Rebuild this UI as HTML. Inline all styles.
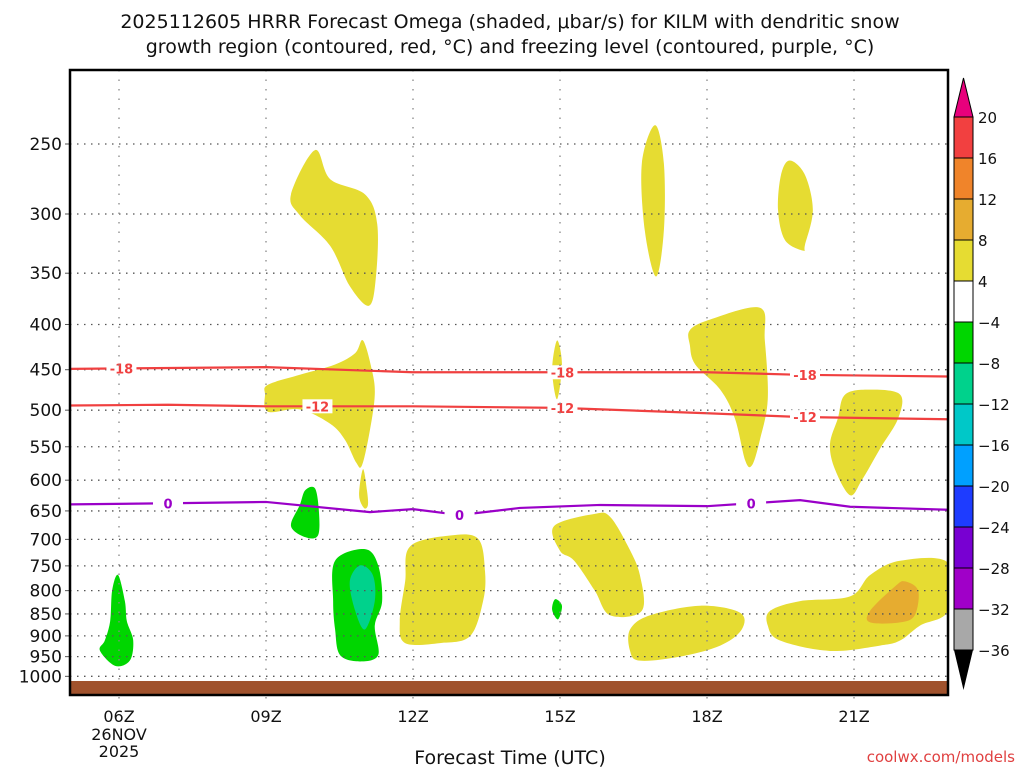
<!DOCTYPE html>
<html><head><meta charset="utf-8"><style>
body{margin:0;background:#fff;}
svg text{font-family:"DejaVu Sans","Liberation Sans",sans-serif;}
</style></head><body>
<svg id="c" width="1024" height="768" xmlns="http://www.w3.org/2000/svg">
<text x="510" y="28" text-anchor="middle" font-size="19" fill="#111">2025112605 HRRR Forecast Omega (shaded, μbar/s) for KILM with dendritic snow</text>
<text x="510" y="53" text-anchor="middle" font-size="19" fill="#111">growth region (contoured, red, °C) and freezing level (contoured, purple, °C)</text>
<text x="510" y="764" text-anchor="middle" font-size="19" fill="#111">Forecast Time (UTC)</text>
<text x="1015" y="762" text-anchor="end" font-size="15" fill="#e04040">coolwx.com/models</text>
<g id="plot"></g>
<g id="cbar"></g>
</svg>
<script>
const hourTicks=[6,9,12,15,18,21];
const hourLabels=["06Z","09Z","12Z","15Z","18Z","21Z"];
const pLevels=[250,300,350,400,450,500,550,600,650,700,750,800,850,900,950,1000];
const line18H=[5,9,12,15,18,19.9,22.92];
const line18P=[449,447,453,453,453,456,458];
const line12H=[5,7,9,12,15,18,19.9,22.92];
const line12P=[494,493,495,495,497,504,509,512];
const line0H=[5,7.24,9,11.12,12,12.96,14.18,15.82,18,19.9,20.92,22.92];
const line0P=[639,637,635,652,647,657,645,640,642,632,643,648];
const labels18H=[6.05,15.05,20.0];
const labels12H=[10.05,15.05,20.0];
const labels0H=[7.0,12.95,18.9];
const cbValues=["20","16","12","8","4","-4","-8","-12","-16","-20","-24","-28","-32","-36"];
const cbColors=["#f24040","#f0842a","#e6ac30","#e6dc32","#ffffff","#00d600","#00d28c","#00c8c8","#00a0ff","#1e3cff","#7800d2","#a000c8","#a8a8a8"];
const blobs=[
{c:"#e6dc32",h:[9.51,10.0,10.31,11.02,11.27,11.24,11.1,10.71,10.31,9.69],p:[285,254,274,285,308,355,381,362,326,301]},
{c:"#e6dc32",h:[8.98,9.04,9.69,10.41,10.82,10.98,11.16,11.22,11.12,10.96,10.84,10.61,10.31,9.69,9.04],p:[480,468,456,444,431,417,450,480,527,577,573,540,518,499,502]},
{c:"#e6dc32",h:[10.98,11.06,11.08,11.0,10.9],p:[583,616,640,645,624]},
{c:"#e6dc32",h:[14.94,15.04,14.94,14.84],p:[417,444,486,450]},
{c:"#e6dc32",h:[16.94,17.12,17.12,16.96,16.73,16.67],p:[238,263,313,353,313,263]},
{c:"#e6dc32",h:[19.69,20.0,20.16,20.0,19.96,19.59,19.45,19.51],p:[261,271,297,325,330,321,297,271]},
{c:"#e6dc32",h:[17.65,18.06,19.08,19.18,19.24,19.08,18.92,18.78,18.57,18.27,17.76,17.65],p:[406,395,383,417,486,540,577,570,511,474,444,422]},
{c:"#e6dc32",h:[20.82,21.33,21.94,21.9,21.53,21.16,20.92,20.61,20.51,20.67],p:[480,474,480,511,553,600,624,583,546,511]},
{c:"#e6dc32",h:[11.94,12.76,13.33,13.47,13.43,13.16,12.55,11.84,11.73,11.84],p:[713,693,699,761,822,901,917,917,866,781]},
{c:"#e6dc32",h:[14.88,15.71,16.02,16.39,16.63,16.67,16.02,15.71,15.29,15.0],p:[676,655,660,713,768,843,853,800,740,721]},
{c:"#e6dc32",h:[16.43,16.84,17.86,18.67,18.71,18.27,17.45,16.63,16.43],p:[885,853,832,847,885,923,950,960,936]},
{c:"#e6dc32",h:[19.29,19.9,20.92,21.33,21.94,22.92,22.92,22.35,21.94,21.53,20.51,19.49,19.24],p:[843,822,812,768,740,744,843,876,911,923,936,911,876]},
{c:"#e6ac30",h:[21.33,21.84,22.04,22.31,22.24,21.94,21.33],p:[843,791,781,800,853,869,869]},
{c:"#00d600",h:[9.8,10.0,10.08,10.06,9.8,9.51,9.69],p:[616,613,651,693,696,676,640]},
{c:"#00d600",h:[5.98,6.12,6.16,6.29,6.22,5.92,5.61,5.71,5.82,5.86],p:[768,822,866,911,960,973,935,911,866,800]},
{c:"#00d600",h:[10.41,11.02,11.29,11.37,11.22,11.29,10.92,10.51,10.41,10.37],p:[740,718,749,822,876,946,962,946,885,822]},
{c:"#00d28c",h:[10.92,11.18,11.22,11.02,10.82,10.71],p:[749,768,822,885,843,781]},
{c:"#00d600",h:[14.9,15.04,14.96,14.84],p:[818,832,862,841]}
];
const NS="http://www.w3.org/2000/svg";
const PL=70,PR=948,PT=70,PB=695;
function xs(h){return 119+(h-6)*49;}
function ys(p){return 144+384*Math.log(p/250);}
function mk(tag,attrs,parent){const e=document.createElementNS(NS,tag);for(const k in attrs)e.setAttribute(k,attrs[k]);parent.appendChild(e);return e;}
function smoothClosed(P){
  const n=P.length;let d='M'+P[0][0]+' '+P[0][1];
  for(let i=0;i<n;i++){
    const p0=P[(i-1+n)%n],p1=P[i],p2=P[(i+1)%n],p3=P[(i+2)%n];
    const c1x=p1[0]+(p2[0]-p0[0])/6,c1y=p1[1]+(p2[1]-p0[1])/6;
    const c2x=p2[0]-(p3[0]-p1[0])/6,c2y=p2[1]-(p3[1]-p1[1])/6;
    d+=` C${c1x} ${c1y} ${c2x} ${c2y} ${p2[0]} ${p2[1]}`;
  }
  return d+'Z';
}
const g=document.getElementById('plot');
const cl=mk('clipPath',{id:'clp'},g);mk('rect',{x:PL,y:PT,width:PR-PL,height:PB-PT},cl);
const inner=mk('g',{'clip-path':'url(#clp)'},g);
blobs.forEach((b,i)=>{
  const pts=b.h.map((h,j)=>[xs(h),ys(b.p[j])]);
  const e=mk('path',{d:smoothClosed(pts),fill:b.c},inner);
  
  
});
pLevels.forEach(p=>{
  const y=ys(p);
  const e=mk('line',{x1:PL,x2:PR,y1:y,y2:y,stroke:'#555','stroke-width':1.3,'stroke-dasharray':'1.5 5.5'},inner);
  
  
  mk('line',{x1:PL-5,x2:PL,y1:y,y2:y,stroke:'#555','stroke-width':1},g);
  const t=mk('text',{x:62,y:y+6,'text-anchor':'end','font-size':17,fill:'#111'},g);t.textContent=p;
  
  
});
hourTicks.forEach((h,i)=>{
  const x=xs(h);
  const e=mk('line',{x1:x,x2:x,y1:PT,y2:PB+8,stroke:'#888','stroke-width':1.3,'stroke-dasharray':'1.5 8'},g);
  
  
  const t=mk('text',{x:x,y:722,'text-anchor':'middle','font-size':16,fill:'#111'},g);t.textContent=hourLabels[i];
  
  
});
[["26NOV",740],["2025",757]].forEach(a=>{const t=mk('text',{x:xs(6),y:a[1],'text-anchor':'middle','font-size':16,fill:'#111'},g);t.textContent=a[0];

});
function drawLine(H,P,color,name,lab,labTxt){
  const d=H.map((h,i)=>(i?'L':'M')+xs(h)+' '+ys(P[i])).join(' ');
  const e=mk('path',{d:d,fill:'none',stroke:color,'stroke-width':2.2},inner);
  
  
  lab.forEach(h=>{
    let k=0;while(k<H.length-2&&H[k+1]<h)k++;
    const f=(h-H[k])/(H[k+1]-H[k]);const p=P[k]+f*(P[k+1]-P[k]);
    const x=xs(h),y=ys(p);
    mk('rect',{x:x-15,y:y-7,width:30,height:14,fill:'#fff'},inner);
    const t=mk('text',{x:x,y:y+5,'text-anchor':'middle','font-size':13,'font-weight':'bold',fill:color},inner);t.textContent=labTxt;
    
    
  });
}
drawLine(line18H,line18P,'#f04040','dgz-minus18-contour',labels18H,'-18');
drawLine(line12H,line12P,'#f04040','dgz-minus12-contour',labels12H,'-12');
drawLine(line0H,line0P,'#9a00c8','freezing-level-contour',labels0H,'0');
const gr=mk('rect',{x:PL,y:681,width:PR-PL,height:PB-681,fill:'#a0522d'},g);


const fr=mk('rect',{x:PL,y:PT,width:PR-PL,height:PB-PT,fill:'none',stroke:'#000','stroke-width':2.5},g);


const cb=document.getElementById('cbar');
const cx=954,cw=19,cTop=117,bh=41;
const ta=mk('polygon',{points:`${cx},${cTop} ${cx+cw},${cTop} ${cx+cw/2},${cTop-39}`,fill:'#e8007c',stroke:'#000','stroke-width':1},cb);


cbColors.forEach((c,i)=>{
  const r=mk('rect',{x:cx,y:cTop+i*bh,width:cw,height:bh,fill:c,stroke:'#000','stroke-width':1},cb);
  
  
});
const bt=cTop+cbColors.length*bh;
const ba=mk('polygon',{points:`${cx},${bt} ${cx+cw},${bt} ${cx+cw/2},${bt+40}`,fill:'#000'},cb);


cbValues.forEach((v,i)=>{
  const t=mk('text',{x:978,y:cTop+i*bh+6,'font-size':15,fill:'#111'},cb);t.textContent=v.replace('-','−');
  
  
});
</script>
</body></html>
